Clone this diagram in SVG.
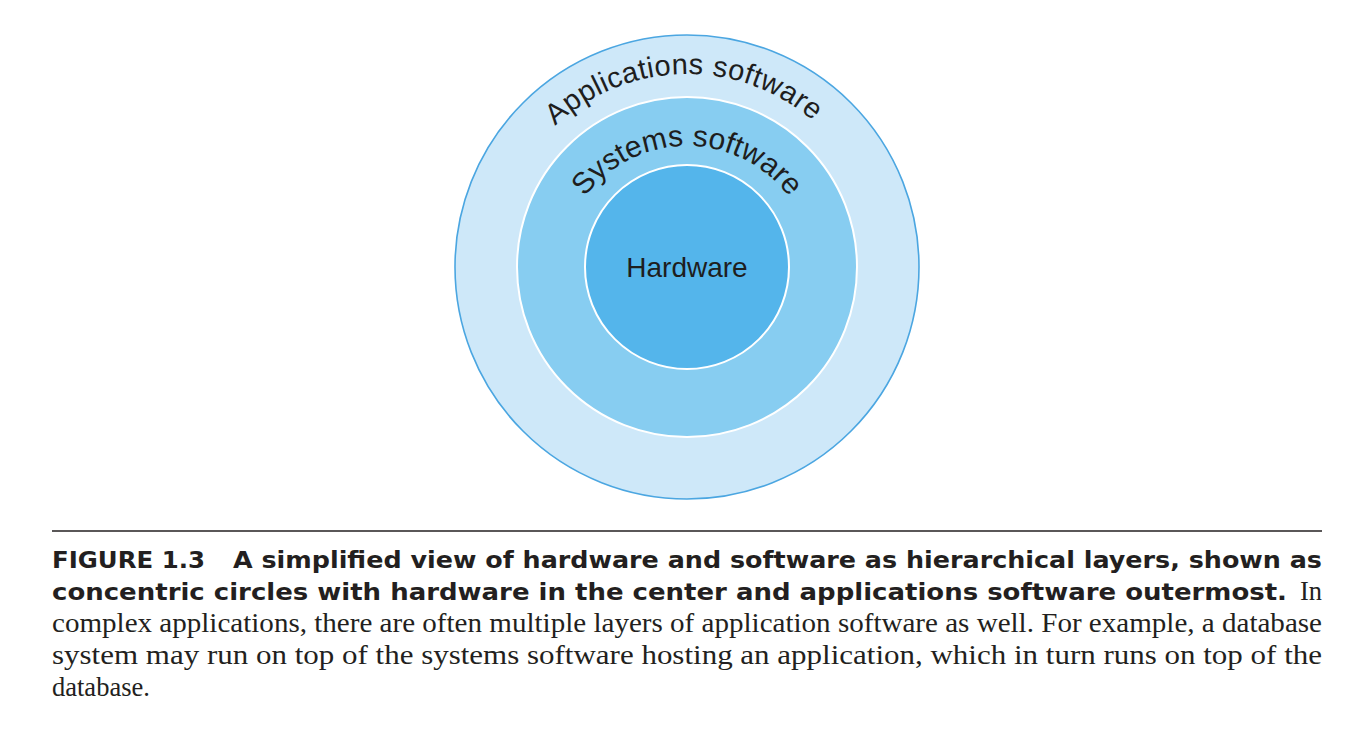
<svg xmlns="http://www.w3.org/2000/svg" xmlns:xlink="http://www.w3.org/1999/xlink" width="1356" height="750" viewBox="0 0 1356 750">
  <style>
    .lbl { font-family: "Liberation Sans", Arial, sans-serif; font-size: 28px; fill: #1e1e1e; }
    .cap-b { font-family: "DejaVu Sans", "Liberation Sans", sans-serif; font-weight: bold; font-size: 22.5px; fill: #231f20; }
    .cap-r { font-family: "Liberation Serif", "Times New Roman", serif; font-size: 26.5px; fill: #231f20; }
  </style>
  <defs>
    <path id="arcApp" d="M 494 267 A 193 193 0 0 1 880 267"/>
    <path id="arcSys" d="M 559 274 A 128 128 0 0 1 815 274"/>
  </defs>
  <rect width="1356" height="750" fill="#ffffff"/>
  <g id="layer-applications">
    <circle cx="687" cy="267" r="232" fill="#cee8f9" stroke="#4ba6e1" stroke-width="1.6"/>
    <text class="lbl" style="font-size:29px;letter-spacing:0.4px"><textPath href="#arcApp" xlink:href="#arcApp" startOffset="49.4%" text-anchor="middle">Applications software</textPath></text>
  </g>
  <g id="layer-systems">
    <circle cx="687" cy="267" r="170" fill="#87cdf1" stroke="#ffffff" stroke-width="2"/>
    <text class="lbl" style="font-size:30px"><textPath href="#arcSys" xlink:href="#arcSys" startOffset="50%" text-anchor="middle">Systems software</textPath></text>
  </g>
  <g id="layer-hardware">
    <circle cx="687" cy="267" r="102" fill="#54b5eb" stroke="#ffffff" stroke-width="2"/>
    <text class="lbl" x="687" y="277" text-anchor="middle">Hardware</text>
  </g>
  <g id="connectors"/>
  <g id="caption">
    <line x1="52" y1="531" x2="1322" y2="531" stroke="#231f20" stroke-width="1.6"/>
    <text class="cap-b" x="52" y="568" textLength="153" lengthAdjust="spacingAndGlyphs">FIGURE 1.3</text>
    <text class="cap-b" x="233" y="568" textLength="1089" lengthAdjust="spacingAndGlyphs">A simplified view of hardware and software as hierarchical layers, shown as</text>
    <text class="cap-b" x="52" y="600" textLength="1235" lengthAdjust="spacingAndGlyphs">concentric circles with hardware in the center and applications software outermost.</text>
    <text class="cap-r" x="1322" y="600" text-anchor="end">In</text>
    <text class="cap-r" x="52" y="632" textLength="1270" lengthAdjust="spacingAndGlyphs">complex applications, there are often multiple layers of application software as well. For example, a database</text>
    <text class="cap-r" x="52" y="664" textLength="1270" lengthAdjust="spacingAndGlyphs">system may run on top of the systems software hosting an application, which in turn runs on top of the</text>
    <text class="cap-r" x="52" y="696">database.</text>
  </g>
</svg>
